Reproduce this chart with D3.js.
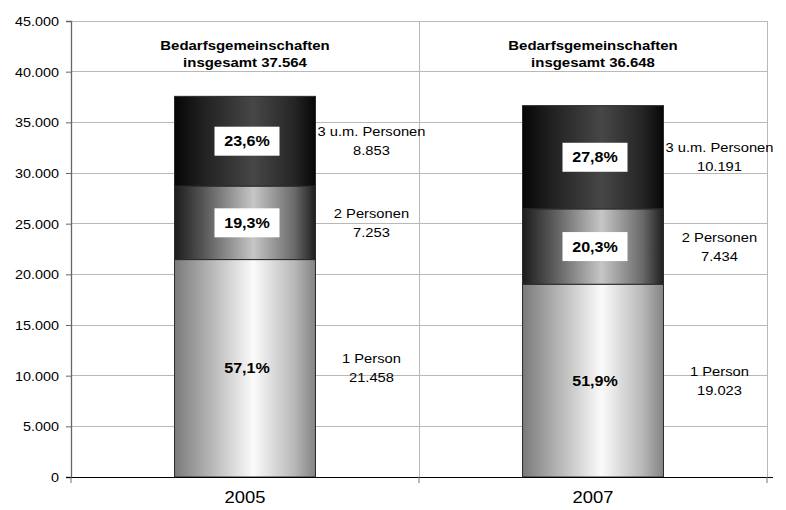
<!DOCTYPE html>
<html>
<head>
<meta charset="utf-8">
<script src="https://cdn.jsdelivr.net/npm/d3@7"></script>
<style>
  body { margin: 0; background: #fff; }
  svg { display: block; font-family: "Liberation Sans", Arial, sans-serif; }
</style>
</head>
<body>
<svg id="chart" width="786" height="510"></svg>
<script>
// Bedarfsgemeinschaften nach Größe, 2005 und 2007
const years = ["2005", "2007"];
const groups = ["1 Person", "2 Personen", "3 u.m. Personen"];
const onePerson = [21458, 19023];
const twoPersons = [7253, 7434];
const threePlus = [8853, 10191];
const totals = [37564, 36648];
const shares = [[57.1, 19.3, 23.6], [51.9, 20.3, 27.8]];
const yTicks = [0, 5000, 10000, 15000, 20000, 25000, 30000, 35000, 40000, 45000];

const svg = d3.select("#chart");
const plotL = 71, plotR = 767, plotT = 21, plotB = 477;
const stretch = 1.15;

const x = d3.scaleBand().domain(years).range([plotL, plotR]).paddingInner(0).paddingOuter(0);
const y = d3.scaleLinear().domain([0, 45000]).range([plotB, plotT]);
const barW = x.bandwidth() * 0.405;

const fmt = d3.formatLocale({ decimal: ",", thousands: ".", grouping: [3], currency: ["", "€"] });
const num = fmt.format(",d");
const pct = v => fmt.format(".1f")(v) + "%";

// Horizontal shading for each segment
const defs = svg.append("defs");
const shades = [
  [[0, "#7a7a7a"], [0.18, "#a4a4a4"], [0.56, "#fbfbfb"], [0.85, "#b8b8b8"], [1, "#838383"]],
  [[0, "#1c1c1c"], [0.2, "#555"], [0.56, "#c6c6c6"], [0.85, "#6a6a6a"], [1, "#1e1e1e"]],
  [[0, "#060606"], [0.2, "#202020"], [0.56, "#474747"], [0.85, "#252525"], [1, "#070707"]]
];
shades.forEach((stops, i) => {
  const g = defs.append("linearGradient").attr("id", "shade" + i)
    .attr("x1", 0).attr("x2", 1).attr("y1", 0).attr("y2", 0);
  stops.forEach(([o, c]) => g.append("stop").attr("offset", o).attr("stop-color", c));
});

// Stretched text helper
function label(parent, tx, ty, str, size, weight) {
  return parent.append("text")
    .attr("transform", `translate(${tx},${ty}) scale(${stretch},1)`)
    .attr("text-anchor", "middle")
    .attr("font-size", size)
    .attr("font-weight", weight || "normal")
    .attr("fill", "#000")
    .text(str);
}

// Gridlines
svg.append("g").selectAll("line").data(yTicks.filter(d => d > 0)).join("line")
  .attr("x1", plotL).attr("x2", plotR)
  .attr("y1", d => y(d)).attr("y2", d => y(d))
  .attr("stroke", "#b8b8b8").attr("stroke-width", 1).attr("shape-rendering", "crispEdges");
svg.append("g").selectAll("line").data(years).join("line")
  .attr("x1", d => x(d) + x.bandwidth()).attr("x2", d => x(d) + x.bandwidth())
  .attr("y1", plotT).attr("y2", plotB)
  .attr("stroke", "#b8b8b8").attr("stroke-width", 1).attr("shape-rendering", "crispEdges");

// Y axis
const yAxis = svg.append("g").attr("transform", `translate(${plotL},0)`)
  .call(d3.axisLeft(y).tickValues(yTicks).tickSize(5).tickFormat(d => num(d)));
yAxis.select(".domain").attr("stroke", "#666").attr("stroke-width", 1.3);
yAxis.selectAll(".tick line").attr("stroke", "#666");
yAxis.selectAll(".tick text").remove();
yAxis.selectAll(".tick").each(function(d) {
  d3.select(this).append("text")
    .attr("transform", `translate(-12,4.5) scale(${stretch},1)`)
    .attr("text-anchor", "end").attr("font-size", 12.5).attr("fill", "#000")
    .text(num(d));
});

// Stacked bars
const stackData = years.map((yr, i) => ({ year: yr, a: onePerson[i], b: twoPersons[i], c: threePlus[i] }));
const series = d3.stack().keys(["a", "b", "c"])(stackData);

const barsG = svg.append("g");
series.forEach((s, k) => {
  barsG.selectAll(null).data(s).join("rect")
    .attr("x", d => x(d.data.year) + (x.bandwidth() - barW) / 2)
    .attr("width", barW)
    .attr("y", d => y(d[1]))
    .attr("height", d => y(d[0]) - y(d[1]))
    .attr("fill", `url(#shade${k})`)
    .attr("stroke", "#2a2a2a").attr("stroke-width", 1);
});

// X axis
const xAxis = svg.append("g").attr("transform", `translate(0,${plotB})`);
xAxis.append("line").attr("x1", plotL - 5).attr("x2", plotR + 6)
  .attr("y1", 0.5).attr("y2", 0.5).attr("stroke", "#000");
[plotL, ...years.map(d => x(d) + x.bandwidth())].forEach(px => {
  xAxis.append("line").attr("x1", px).attr("x2", px).attr("y1", 0).attr("y2", 6)
    .attr("stroke", "#777");
});
years.forEach(yr => label(xAxis, x(yr) + x.bandwidth() / 2, 26, yr, 16));

// Labels: share inside each segment, group name and count beside it
const labG = svg.append("g");
series.forEach((s, k) => {
  s.forEach((d, i) => {
    const cx = x(d.data.year) + x.bandwidth() / 2;
    const cy = y((d[0] + d[1]) / 2);
    if (k > 0) {
      labG.append("rect").attr("x", cx + 2 - 32.5).attr("y", cy - 14.5)
        .attr("width", 65).attr("height", 29).attr("fill", "#fff");
    }
    label(labG, cx + 2, cy + 5, pct(shares[i][k]), 14, "bold");
    const sx = cx + barW / 2 + 56;
    label(labG, sx, cy - 5, groups[k], 12.8);
    label(labG, sx, cy + 14, num(d[1] - d[0]), 12.8);
  });
});

// Totals above each bar
years.forEach((yr, i) => {
  const cx = x(yr) + x.bandwidth() / 2;
  label(labG, cx, 50, "Bedarfsgemeinschaften", 13, "bold");
  label(labG, cx, 67, "insgesamt " + num(totals[i]), 13, "bold");
});
</script>
</body>
</html>
